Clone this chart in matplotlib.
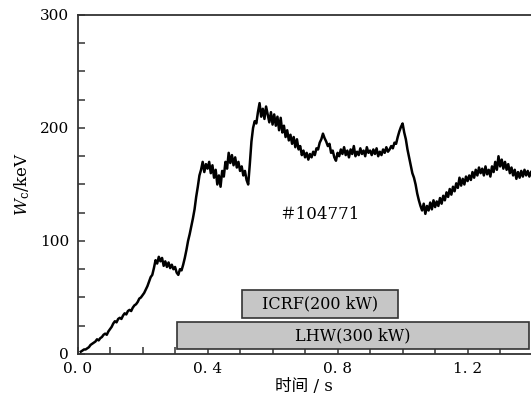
import numpy as np
import matplotlib
matplotlib.use("Agg")
import matplotlib.pyplot as plt
from matplotlib.patches import Rectangle
from matplotlib.ticker import MultipleLocator

plt.rcParams["font.family"] = ["DejaVu Serif", "Noto Sans CJK SC"]
plt.rcParams["mathtext.fontset"] = "dejavuserif"

# stored energy trace, shot #104771, sampled every 5 ms from 0.010 s
time_s = np.arange(0.010, 1.3951, 0.005)
wc_kev = [
    2, 3, 4, 4, 5, 6, 8, 9, 10, 11, 13, 12, 14, 15, 17, 18, 17, 20, 22,
    24, 27, 29, 28, 31, 32, 31, 34, 36, 35, 38, 39, 38, 41, 43, 44, 46, 49, 50, 52,
    54, 57, 60, 64, 68, 70, 76, 83, 80, 86, 82, 85, 78, 82, 77, 81, 76, 79, 75, 77,
    72, 70, 75, 74, 79, 85, 92, 100, 106, 113, 120, 128, 139, 148, 158, 163, 170, 161, 168, 164,
    170, 160, 167, 156, 163, 150, 158, 148, 162, 157, 170, 164, 178, 169, 176, 167, 174, 165, 170, 162,
    166, 158, 162, 154, 150, 168, 188, 200, 206, 204, 214, 222, 210, 217, 208, 219, 212, 205, 214, 203,
    212, 202, 210, 198, 209, 196, 202, 192, 198, 189, 194, 186, 192, 183, 190, 181, 184, 176, 180, 174,
    178, 172, 177, 174, 179, 176, 182, 181, 187, 190, 195, 191, 188, 184, 186, 178, 180, 174, 171, 178,
    175, 181, 177, 183, 176, 180, 174, 181, 177, 184, 175, 179, 176, 182, 177, 180, 175, 183, 178, 180,
    176, 181, 177, 182, 175, 179, 176, 181, 178, 183, 179, 181, 184, 182, 187, 186, 192, 197, 201, 204,
    196, 190, 181, 174, 167, 160, 156, 150, 142, 136, 131, 127, 133, 124, 131, 127, 134, 128, 136, 130,
    135, 131, 138, 133, 140, 136, 143, 139, 146, 141, 148, 144, 151, 147, 156, 149, 155, 150, 157, 153,
    158, 154, 161, 156, 163, 158, 165, 160, 164, 158, 166, 159, 163, 157, 166, 161, 170, 163, 175, 166,
    172, 164, 170, 163, 168, 160, 165, 158, 163, 155, 161, 156, 162, 157, 163, 158, 162, 157, 161,
]

# heating phases: label, start/end time, bottom/top of the bar
heating_labels = ["ICRF(200 kW)", "LHW(300 kW)"]
heating_start = [0.507, 0.305]
heating_end = [0.986, 1.388]
heating_low = [32, 4]
heating_high = [56.5, 28.5]

fig = plt.figure(figsize=(5.31, 4.05), dpi=100)
ax = fig.add_axes([0.146, 0.126, 0.854, 0.837])

for label, x0, x1, y0, y1 in zip(heating_labels, heating_start, heating_end,
                                 heating_low, heating_high):
    ax.add_patch(Rectangle((x0, y0), x1 - x0, y1 - y0, facecolor="#c6c6c6",
                           edgecolor="#333333", linewidth=1.2, zorder=2))
    ax.text((x0 + x1) / 2, (y0 + y1) / 2, label, ha="center", va="center",
            fontsize=11.5, zorder=3)

ax.plot(time_s[:len(wc_kev)], wc_kev, color="black", linewidth=1.8, zorder=4)

ax.text(0.745, 123, "＃104771", ha="center", va="center", fontsize=12)

ax.set_xlim(0, 1.395)
ax.set_ylim(0, 300)
ax.set_xticks([0.0, 0.4, 0.8, 1.2])
ax.set_xticklabels(["0. 0", "0. 4", "0. 8", "1. 2"])
ax.set_yticks([0, 100, 200, 300])
ax.xaxis.set_minor_locator(MultipleLocator(0.1))
ax.yaxis.set_minor_locator(MultipleLocator(25))
ax.tick_params(which="both", direction="in", length=5, width=1.1,
               color="#333333", labelsize=11, pad=6)

ax.spines["right"].set_visible(False)
for side in ["left", "bottom", "top"]:
    ax.spines[side].set_linewidth(1.3)
    ax.spines[side].set_color("#333333")

ax.set_xlabel("时间 / s", fontsize=12, labelpad=1)
ax.set_ylabel(r"$W_\mathrm{c}$/keV", fontsize=12, labelpad=6)

fig.savefig("out.png", dpi=100)
